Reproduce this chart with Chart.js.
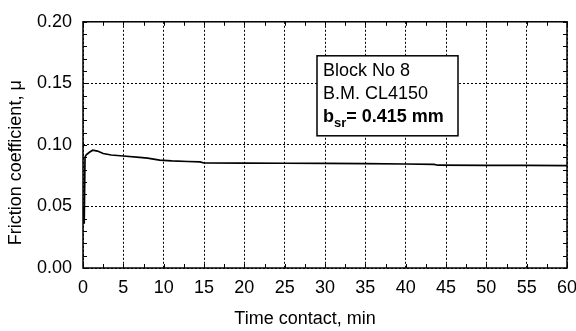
<!DOCTYPE html>
<html>
<head>
<meta charset="utf-8">
<script src="https://cdn.jsdelivr.net/npm/chart.js@4"></script>
<style>
  html, body { margin: 0; padding: 0; background: #fff; }
  #wrap { width: 576px; height: 331px; }
</style>
</head>
<body>
<div id="wrap"><canvas id="frictionChart"></canvas></div>
<script>
const timeMin = [0, 0.05, 0.1, 0.15, 0.25, 0.4, 0.8, 1.2, 1.8, 2.5, 3.5, 5, 7, 8, 9.5, 11, 13, 14.5, 15, 20, 25, 30, 35, 40, 43.5, 44, 50, 55, 60];
const friction = [0.048, 0.041, 0.050, 0.036, 0.090, 0.092, 0.094, 0.0957, 0.095, 0.093, 0.0918, 0.091, 0.0898, 0.0893, 0.0877, 0.0870, 0.0865, 0.0862, 0.0853, 0.0852, 0.0851, 0.0850, 0.0848, 0.0845, 0.0842, 0.0835, 0.0834, 0.0833, 0.0832];
const xTicks = { min: 0, max: 60, step: 5 };
const yTicks = { min: 0, max: 0.2, step: 0.05 };
const xTitle = 'Time contact, min';
const yTitle = 'Friction coefficient, μ';
const noteLines = ['Block No 8', 'B.M. CL4150'];
const noteBold = { base: 'b', sub: 'sr', rest: '= 0.415 mm' };

const FONT = 'Arial, "Liberation Sans", sans-serif';

// Rahmen + kleine Striche + Achsentitel
const framePlugin = {
    id: 'frame',
    afterDraw(chart) {
        const { ctx, chartArea: a, scales } = chart;
        ctx.save();
        ctx.strokeStyle = '#000';
        ctx.lineWidth = 1.5;
        ctx.setLineDash([]);
        ctx.strokeRect(a.left, a.top, a.right - a.left, a.bottom - a.top);
        ctx.lineWidth = 1;
        ctx.beginPath();
        for (let v = yTicks.min; v <= yTicks.max + 1e-9; v += 0.01) {
            const y = Math.round(scales.y.getPixelForValue(v)) + 0.5;
            ctx.moveTo(a.left, y); ctx.lineTo(a.left + 4, y);
            ctx.moveTo(a.right, y); ctx.lineTo(a.right - 4, y);
        }
        for (let v = xTicks.min; v <= xTicks.max; v += 2.5) {
            const x = Math.round(scales.x.getPixelForValue(v)) + 0.5;
            ctx.moveTo(x, a.bottom); ctx.lineTo(x, a.bottom - 4);
            ctx.moveTo(x, a.top); ctx.lineTo(x, a.top + 4);
        }
        ctx.stroke();

        // Titel (im Original leicht versetzt)
        ctx.fillStyle = '#000';
        ctx.font = '18px ' + FONT;
        ctx.textAlign = 'center';
        ctx.textBaseline = 'alphabetic';
        ctx.fillText(xTitle, a.left + 222, a.bottom + 56);
        ctx.translate(21, a.top + 141);
        ctx.rotate(-Math.PI / 2);
        ctx.fillText(yTitle, 0, 0);
        ctx.restore();
    }
};

// Textbox
const notePlugin = {
    id: 'note',
    afterDraw(chart) {
        const { ctx, chartArea: a } = chart;
        const left = a.left + 234, top = a.top + 34, w = 141, h = 80;
        ctx.save();
        ctx.fillStyle = '#fff';
        ctx.fillRect(left, top, w, h);
        ctx.strokeStyle = '#000';
        ctx.lineWidth = 1.5;
        ctx.strokeRect(left, top, w, h);
        ctx.fillStyle = '#000';
        ctx.textBaseline = 'alphabetic';
        ctx.font = '18px ' + FONT;
        noteLines.forEach((t, i) => ctx.fillText(t, left + 6, top + 20 + i * 23));
        let x = left + 6;
        const yb = top + 66;
        ctx.font = 'bold 18px ' + FONT;
        ctx.fillText(noteBold.base, x, yb);
        x += ctx.measureText(noteBold.base).width;
        ctx.font = 'bold 13px ' + FONT;
        ctx.fillText(noteBold.sub, x, yb + 5);
        x += ctx.measureText(noteBold.sub).width;
        ctx.font = 'bold 18px ' + FONT;
        ctx.fillText(noteBold.rest, x, yb);
        ctx.restore();
    }
};

document.addEventListener('DOMContentLoaded', function() {
    const ctx = document.getElementById('frictionChart').getContext('2d');
    new Chart(ctx, {
        type: 'scatter',
        data: {
            datasets: [{
                data: timeMin.map((t, i) => ({ x: t, y: friction[i] })),
                showLine: true,
                borderColor: '#000',
                borderWidth: 1.7,
                pointRadius: 0,
                tension: 0
            }]
        },
        options: {
            responsive: true,
            maintainAspectRatio: false,
            animation: false,
            layout: { padding: { top: 17, right: 9, left: 0, bottom: 0 } },
            plugins: {
                legend: { display: false },
                tooltip: { enabled: false }
            },
            scales: {
                x: {
                    type: 'linear',
                    min: xTicks.min,
                    max: xTicks.max,
                    afterFit: s => { s.height = 63; s.paddingRight = 0; s.paddingLeft = 0; },
                    ticks: {
                        stepSize: xTicks.step,
                        color: '#000',
                        font: { size: 18, family: FONT },
                        padding: 9,
                        maxRotation: 0
                    },
                    grid: { color: '#000', lineWidth: 1, drawTicks: false },
                    border: { display: false, dash: [2, 2] }
                },
                y: {
                    min: yTicks.min,
                    max: yTicks.max,
                    afterFit: s => { s.width = 83; },
                    ticks: {
                        stepSize: yTicks.step,
                        color: '#000',
                        font: { size: 18, family: FONT },
                        padding: 11,
                        callback: v => v.toFixed(2)
                    },
                    grid: { color: '#000', lineWidth: 1, drawTicks: false },
                    border: { display: false, dash: [2, 2] }
                }
            }
        },
        plugins: [framePlugin, notePlugin]
    });
});
</script>
</body>
</html>
